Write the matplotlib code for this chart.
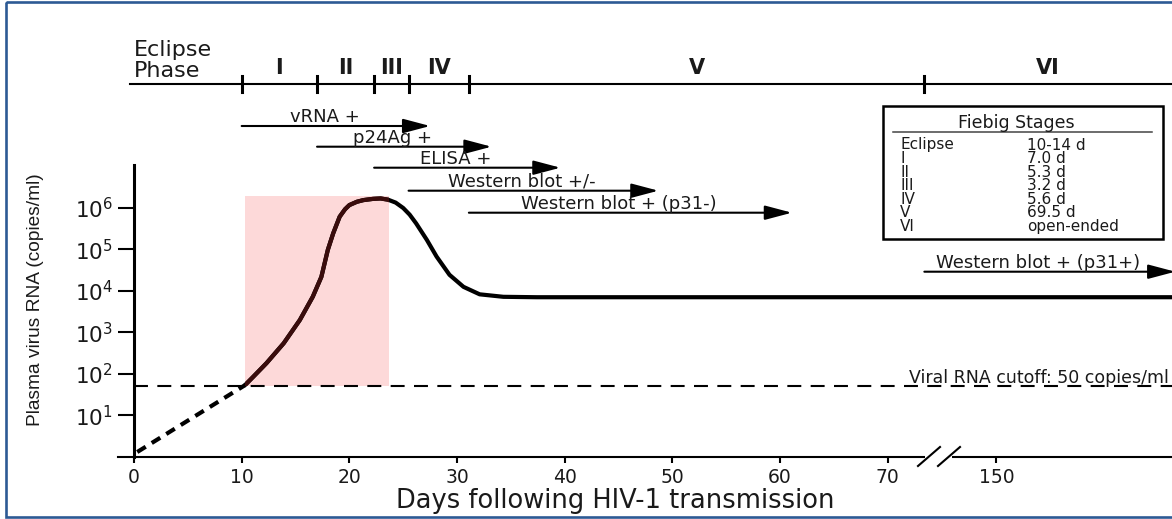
import numpy as np
import matplotlib
matplotlib.use("Agg")
import matplotlib.pyplot as plt
from matplotlib.patches import Rectangle
from matplotlib.lines import Line2D
from matplotlib.ticker import NullLocator
from matplotlib.transforms import blended_transform_factory

# ------------------------------------------------------------------ data
stage_names = ["I", "II", "III", "IV", "V", "VI"]
stage_starts = [10.0, 17.0, 22.3, 25.5, 31.1, 73.4]      # days (as drawn)

table_stages = ["Eclipse", "I", "II", "III", "IV", "V", "VI"]
table_durations = ["10-14 d", "7.0 d", "5.3 d", "3.2 d", "5.6 d", "69.5 d", "open-ended"]

assay_labels = ["vRNA +", "p24Ag +", "ELISA +", "Western blot +/-",
                "Western blot + (p31-)", "Western blot + (p31+)"]
assay_start = [10.0, 17.0, 22.3, 25.5, 31.1, 73.4]
assay_end = [27.5, 33.2, 39.6, 48.7, 61.1, 166.6]

eclipse_days = [0.3, 10.3]
eclipse_log = [0.12, 1.73]

curve_days = [10.3, 11.1, 12.3, 13.9, 15.4, 16.6, 17.4, 18.0, 18.5, 19.1, 19.6,
              20.0, 20.7, 21.3, 22.2, 22.9, 23.6, 24.3, 25.0, 25.6, 26.2, 27.2,
              28.1, 29.3, 30.6, 32.1, 34.3, 37.4, 50.0, 70.0, 150.0, 166.3]
curve_log = [1.73, 1.94, 2.26, 2.74, 3.30, 3.86, 4.34, 4.99, 5.39, 5.79, 5.97,
             6.07, 6.15, 6.19, 6.22, 6.23, 6.20, 6.13, 6.00, 5.84, 5.63, 5.23,
             4.83, 4.39, 4.10, 3.92, 3.86, 3.85, 3.85, 3.85, 3.85, 3.85]

cutoff_copies = 50
window_days = [10.3, 23.7]
window_top_log = 6.30

xtick_days = [0, 10, 20, 30, 40, 50, 60, 70, 150]
ytick_decades = [1, 2, 3, 4, 5, 6]

# ------------------------------------------------------------------ layout / style
W, H = 1172, 519
BRK_A, BRK_POS = 74.0, 80.1          # broken-axis scale parameters
XMIN, XMAX = -1.486, 166.3
YTOP_LOG = 7.036
HEAD_UNITS = 2.1

plt.rcParams["font.family"] = ["DejaVu Sans"]
plt.rcParams["mathtext.fontset"] = "dejavusans"

TXT = "#1a1a1a"


def fwd(x):
    x = np.asarray(x, dtype=float)
    mid = BRK_A + (x - BRK_A) * (BRK_POS - BRK_A) / (150.0 - BRK_A)
    return np.where(x <= BRK_A, x, np.where(x < 150.0, mid, BRK_POS + (x - 150.0)))


def inv(u):
    u = np.asarray(u, dtype=float)
    mid = BRK_A + (u - BRK_A) * (150.0 - BRK_A) / (BRK_POS - BRK_A)
    return np.where(u <= BRK_A, u, np.where(u < BRK_POS, mid, 150.0 + (u - BRK_POS)))


fig = plt.figure(figsize=(W / 100, H / 100), dpi=100)
fig.patch.set_facecolor("white")

ax = fig.add_axes([118 / W, 62 / H, 1054 / W, 292 / H])
ax.set_xscale("function", functions=(fwd, inv))
ax.set_yscale("log")
ax.set_xlim(XMIN, XMAX)
ax.set_ylim(1, 10 ** YTOP_LOG)

# pink window
rect = Rectangle((window_days[0], cutoff_copies), window_days[1] - window_days[0],
                 10 ** window_top_log - cutoff_copies, facecolor="#fdd9d9",
                 edgecolor="none", zorder=1)
ax.add_patch(rect)

# cutoff line
ax.plot([0, XMAX], [cutoff_copies, cutoff_copies], color="black", lw=1.5,
        linestyle=(0, (6.7, 4.5)), zorder=2)

# eclipse (dashed) and viral load curve
ax.plot(eclipse_days, 10 ** np.array(eclipse_log), color="black", lw=3.0,
        linestyle=(0, (2.4, 1.7)), zorder=3)
vl = 10 ** np.array(curve_log)
ax.plot(curve_days, vl, color="black", lw=3.0, solid_capstyle="round",
        solid_joinstyle="round", zorder=3)
inner, = ax.plot(curve_days, vl, color="#3a0c0c", lw=3.0, solid_capstyle="round",
                 solid_joinstyle="round", zorder=4)
inner.set_clip_path(rect)

# axes styling
for s in ("top", "right"):
    ax.spines[s].set_visible(False)
ax.spines["left"].set_position(("data", 0))
ax.spines["left"].set_linewidth(2.2)
ax.spines["bottom"].set_linewidth(1.5)

ax.set_xticks(xtick_days)
ax.set_xticklabels([str(d) for d in xtick_days])
ax.set_yticks([10.0 ** d for d in ytick_decades])
ax.set_yticklabels([r"$10^{%d}$" % d for d in ytick_decades])
ax.yaxis.set_minor_locator(NullLocator())
ax.xaxis.set_minor_locator(NullLocator())
ax.tick_params(axis="x", direction="out", length=4.3, width=1.5, pad=3.5,
               labelsize=13.5, colors="black", labelcolor=TXT)
ax.tick_params(axis="y", direction="out", length=11.5, width=1.5, pad=3.6,
               labelsize=15.5, colors="black", labelcolor=TXT)

ax.set_xlabel("Days following HIV-1 transmission", fontsize=18.5, color=TXT)
ax.xaxis.set_label_coords(0.4715, -0.1045)
ax.set_ylabel("Plasma virus RNA (copies/ml)", fontsize=13.8, color=TXT,
              family=["Liberation Sans", "DejaVu Sans"])
ax.yaxis.set_label_coords(-0.0702, 0.5377)

# ------------------------------------------------------------------ overlay (pixel rows)
ov = fig.add_axes([0, 0, 1, 1])
ov.set_autoscale_on(False)
ov.set_xlim(0, W)
ov.set_ylim(H, 0)
ov.axis("off")
tr = blended_transform_factory(ax.transData, ov.transData)

# stage bar
ov.add_line(Line2D([-0.4, XMAX], [83.5, 83.5], transform=tr, color="black", lw=1.5))
for s in stage_starts:
    ov.add_line(Line2D([s, s], [76, 92], transform=tr, color="black", lw=2.2))
bounds = stage_starts + [XMAX]
for i, name in enumerate(stage_names):
    c = float(inv((fwd(bounds[i]) + fwd(bounds[i + 1])) / 2))
    ov.text(c, 73.5, name, transform=tr, ha="center", va="baseline",
            fontsize=15, fontweight="bold", color=TXT)
ov.text(0, 40.4, "Eclipse\nPhase", transform=tr, ha="left", va="top",
        fontsize=16, linespacing=1.03, color=TXT)

# assay arrows
row_y = [126.0, 146.7, 167.7, 190.7, 212.7, 271.7]
for lab, s, e, y in zip(assay_labels, assay_start, assay_end, row_y):
    ov.annotate("", xy=(e, y), xytext=(s, y), xycoords=tr, textcoords=tr,
                arrowprops=dict(arrowstyle="-|>,head_length=0.83,head_width=0.22",
                                mutation_scale=20, lw=1.5, color="black",
                                shrinkA=0, shrinkB=0),
                annotation_clip=False)
    c = float(inv((fwd(s) + fwd(e) - HEAD_UNITS) / 2))
    ov.text(c, y - 4, lab, transform=tr, ha="center", va="baseline",
            fontsize=13, color=TXT)

# Fiebig table
ov.add_patch(Rectangle((883, 106), 280, 133, fill=False, ec="black", lw=1.8))
ov.text(1016, 127.8, "Fiebig Stages", ha="center", va="baseline", fontsize=12.5, color=TXT)
ov.add_line(Line2D([893, 1152], [132, 132], color="#444444", lw=1.1))
ov.text(900, 137.5, "\n".join(table_stages), ha="left", va="top", fontsize=11,
        linespacing=0.88, color=TXT)
ov.text(1027, 137.5, "\n".join(table_durations), ha="left", va="top", fontsize=11,
        linespacing=0.88, color=TXT)

# cutoff label
ov.text(1169, 383, "Viral RNA cutoff: 50 copies/ml", ha="right", va="baseline",
        fontsize=12.5, color=TXT)

# axis break
ov.add_patch(Rectangle((925, 452), 27, 10, fc="white", ec="none"))
ov.add_line(Line2D([918, 940], [466, 447], color="black", lw=1.5))
ov.add_line(Line2D([938, 960], [466, 447], color="black", lw=1.5))

# frame border
ov.add_patch(Rectangle((6, 1.5), 1300, 515.5, fill=False, ec="#2d5a94", lw=1.9,
                       clip_on=False))

fig.savefig("out.png", dpi=100)
